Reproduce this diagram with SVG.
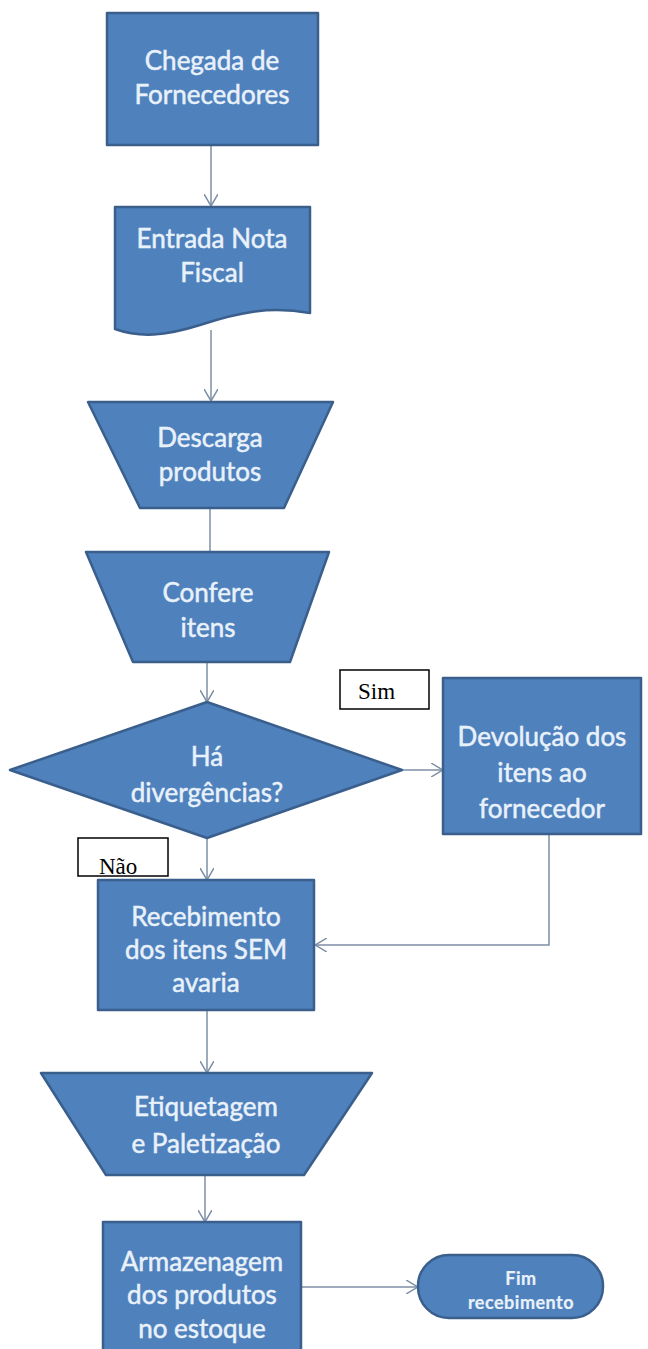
<svg xmlns="http://www.w3.org/2000/svg" width="648" height="1349" viewBox="0 0 648 1349">
  <style>
    .shape { fill: #4F81BD; stroke: #3A5F8C; stroke-width: 2.5; stroke-linejoin: round; }
    .lbl { font-family: Lato, "Open Sans", "Liberation Sans", sans-serif; font-size: 26px; fill: #E9F1FA; stroke: #E9F1FA; stroke-width: 0.5; text-anchor: middle; }
    .small { font-size: 18px; font-weight: bold; stroke-width: 0.2; letter-spacing: 0.5px; }
    .tag { fill: #FFFFFF; stroke: #000000; stroke-width: 1.5; }
    .tagtxt { font-family: "Liberation Serif", "Times New Roman", serif; font-size: 23px; fill: #000000; }
    .conn { fill: none; stroke: #7D8FA6; stroke-width: 1.5; }
  </style>
  <defs>
    <marker id="open" viewBox="0 0 12 14" refX="12" refY="7" markerWidth="12" markerHeight="14" markerUnits="userSpaceOnUse" orient="auto">
      <path d="M0,0 L12,7 L0,14" fill="none" stroke="#7D8FA6" stroke-width="1.5"/>
    </marker>
  </defs>
  <rect width="648" height="1349" fill="#FFFFFF"/>

  <!-- connectors -->
  <g id="connectors">
    <line class="conn" x1="211" y1="145" x2="211" y2="206" marker-end="url(#open)"/>
    <line class="conn" x1="211" y1="330" x2="211" y2="401" marker-end="url(#open)"/>
    <line class="conn" x1="210" y1="508" x2="210" y2="552"/>
    <line class="conn" x1="207" y1="662" x2="207" y2="702" marker-end="url(#open)"/>
    <line class="conn" x1="402" y1="770" x2="443" y2="770" marker-end="url(#open)"/>
    <line class="conn" x1="207" y1="838" x2="207" y2="880" marker-end="url(#open)"/>
    <polyline class="conn" points="549,834 549,945 315,945" marker-end="url(#open)"/>
    <line class="conn" x1="207" y1="1010" x2="207" y2="1073" marker-end="url(#open)"/>
    <line class="conn" x1="205" y1="1175" x2="205" y2="1222" marker-end="url(#open)"/>
    <line class="conn" x1="301" y1="1287" x2="418" y2="1287" marker-end="url(#open)"/>
  </g>

  <!-- process: arrival -->
  <g id="chegada">
    <rect class="shape" x="107" y="13" width="211" height="132"/>
    <text class="lbl" x="212" y="70">Chegada de</text>
    <text class="lbl" x="212" y="104">Fornecedores</text>
  </g>

  <!-- document: invoice -->
  <g id="nota-fiscal">
    <path class="shape" d="M115,207 H310 V313 C270,306 240,312 200,325 C165,336 140,338 115,329 Z"/>
    <text class="lbl" x="212" y="248">Entrada Nota</text>
    <text class="lbl" x="212" y="282">Fiscal</text>
  </g>

  <!-- manual operation: unloading -->
  <g id="descarga">
    <polygon class="shape" points="88,402 333,402 284,508 140,508"/>
    <text class="lbl" x="210" y="447">Descarga</text>
    <text class="lbl" x="210" y="481">produtos</text>
  </g>

  <!-- manual operation: checking -->
  <g id="confere">
    <polygon class="shape" points="86,552 329,552 290,662 133,662"/>
    <text class="lbl" x="208" y="602">Confere</text>
    <text class="lbl" x="208" y="637">itens</text>
  </g>

  <!-- decision -->
  <g id="divergencias">
    <polygon class="shape" points="207,702 402,770 207,838 10,770"/>
    <text class="lbl" x="207" y="766">Há</text>
    <text class="lbl" x="207" y="802">divergências?</text>
  </g>

  <!-- branch labels -->
  <g id="sim">
    <rect class="tag" x="340" y="670" width="89" height="39"/>
    <text class="tagtxt" x="358" y="699">Sim</text>
  </g>
  <g id="nao">
    <rect class="tag" x="78" y="838" width="90" height="38"/>
    <text class="tagtxt" x="99" y="874">Não</text>
  </g>

  <!-- process: return to supplier -->
  <g id="devolucao">
    <rect class="shape" x="443" y="678" width="198" height="156"/>
    <text class="lbl" x="542" y="746">Devolução dos</text>
    <text class="lbl" x="542" y="782">itens ao</text>
    <text class="lbl" x="542" y="818">fornecedor</text>
  </g>

  <!-- process: receiving -->
  <g id="recebimento">
    <rect class="shape" x="98" y="880" width="216" height="130"/>
    <text class="lbl" x="206" y="926">Recebimento</text>
    <text class="lbl" x="206" y="959">dos itens SEM</text>
    <text class="lbl" x="206" y="992">avaria</text>
  </g>

  <!-- manual operation: labelling -->
  <g id="etiquetagem">
    <polygon class="shape" points="41,1073 372,1073 304,1175 106,1175"/>
    <text class="lbl" x="206" y="1116">Etiquetagem</text>
    <text class="lbl" x="206" y="1153">e Paletização</text>
  </g>

  <!-- process: storage -->
  <g id="armazenagem">
    <rect class="shape" x="103" y="1222" width="198" height="135"/>
    <text class="lbl" x="202" y="1271">Armazenagem</text>
    <text class="lbl" x="202" y="1304">dos produtos</text>
    <text class="lbl" x="202" y="1338">no estoque</text>
  </g>

  <!-- terminator -->
  <g id="fim">
    <rect class="shape" x="418" y="1255" width="185" height="63" rx="31" ry="31"/>
    <text class="lbl small" x="521" y="1285">Fim</text>
    <text class="lbl small" x="521" y="1309">recebimento</text>
  </g>
</svg>
